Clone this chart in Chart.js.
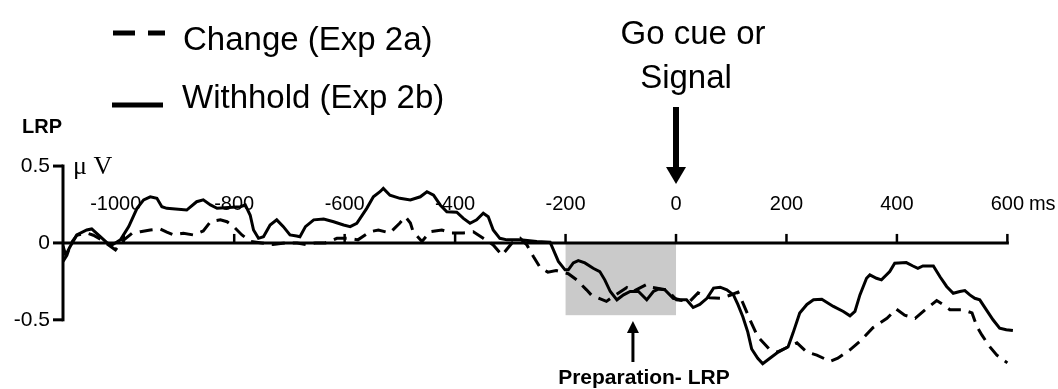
<!DOCTYPE html>
<html>
<head>
<meta charset="utf-8">
<script src="https://cdn.jsdelivr.net/npm/chart.js@4"></script>
<style>
  html, body { margin: 0; padding: 0; background: #fff; }
  #wrap { width: 1058px; height: 389px; position: relative; }
</style>
</head>
<body>
<div id="wrap"><canvas id="lrpChart"></canvas></div>
<script>
// time axis (ms) and LRP amplitude (µV)
const withholdTime = [-1110, -1105, -1098, -1085, -1067, -1058, -1046, -1030, -1021, -1006, -991, -976, -964, -952, -940, -931, -922, -886, -868, -856, -843, -831, -789, -780, -771, -765, -756, -747, -735, -723, -711, -699, -687, -681, -671, -656, -638, -620, -602, -590, -578, -560, -548, -536, -530, -518, -500, -481, -463, -451, -439, -427, -415, -397, -385, -373, -361, -349, -340, -331, -319, -306, -282, -252, -228, -222, -213, -201, -195, -186, -177, -165, -150, -138, -129, -119, -107, -95, -83, -68, -53, -41, -32, -20, -5, 7, 19, 31, 43, 56, 68, 80, 92, 104, 112, 121, 130, 137, 148, 157, 170, 185, 203, 212, 224, 237, 249, 264, 285, 303, 315, 324, 333, 345, 351, 363, 372, 387, 396, 417, 429, 438, 447, 466, 478, 490, 502, 514, 523, 532, 541, 550, 562, 574, 586, 598, 610];
const withholdLRP = [-0.02, -0.08, -0.03, 0.052, 0.084, 0.091, 0.052, 0, -0.013, 0.02, 0.106, 0.225, 0.28, 0.30, 0.29, 0.236, 0.225, 0.214, 0.268, 0.28, 0.247, 0.225, 0.236, 0.247, 0.18, 0.084, 0.03, 0.04, 0.117, 0.15, 0.106, 0.052, 0.045, 0.04, 0.106, 0.15, 0.156, 0.138, 0.117, 0.106, 0.128, 0.225, 0.30, 0.333, 0.355, 0.31, 0.29, 0.28, 0.30, 0.333, 0.31, 0.247, 0.203, 0.2, 0.16, 0.128, 0.15, 0.193, 0.17, 0.084, 0.03, 0.02, 0.02, 0.01, 0.005, -0.045, -0.12, -0.175, -0.175, -0.13, -0.115, -0.13, -0.165, -0.186, -0.24, -0.316, -0.37, -0.338, -0.316, -0.316, -0.37, -0.316, -0.30, -0.305, -0.36, -0.37, -0.37, -0.42, -0.40, -0.36, -0.294, -0.288, -0.305, -0.338, -0.40, -0.48, -0.58, -0.69, -0.75, -0.786, -0.75, -0.71, -0.675, -0.585, -0.456, -0.40, -0.37, -0.366, -0.413, -0.446, -0.474, -0.446, -0.338, -0.23, -0.208, -0.23, -0.24, -0.186, -0.132, -0.128, -0.15, -0.165, -0.15, -0.15, -0.22, -0.283, -0.327, -0.316, -0.31, -0.338, -0.36, -0.37, -0.435, -0.50, -0.554, -0.565, -0.57];

const changeTime = [-1110, -1103, -1095, -1085, -1067, -1055, -1040, -1025, -1015, -1003, -985, -970, -952, -934, -922, -910, -892, -874, -856, -843, -825, -813, -801, -786, -770, -750, -730, -706, -686, -670, -653, -635, -614, -594, -576, -554, -539, -518, -500, -490, -481, -476, -460, -445, -424, -406, -385, -367, -349, -331, -315, -297, -282, -270, -258, -246, -232, -217, -195, -180, -162, -153, -126, -110, -89, -78, -53, -42, -17, 1, 25, 40, 61, 80, 98, 112, 121, 134, 148, 170, 183, 201, 219, 237, 255, 279, 293, 315, 333, 357, 382, 399, 414, 433, 451, 472, 483, 496, 519, 536, 545, 554, 568, 581, 592, 600];
const changeLRP = [-0.12, -0.08, 0.0, 0.05, 0.065, 0.05, 0.02, -0.02, -0.045, 0.01, 0.063, 0.073, 0.084, 0.091, 0.07, 0.052, 0.063, 0.052, 0.078, 0.138, 0.15, 0.138, 0.106, 0.052, 0.01, 0.0, -0.01, 0.0, 0.0, -0.01, 0.0, 0.0, 0.03, 0.03, 0.02, 0.073, 0.084, 0.065, 0.13, 0.17, 0.13, 0.073, 0.01, 0.073, 0.084, 0.065, 0.065, 0.073, 0.03, -0.013, -0.08, 0, 0.03, -0.013, -0.09, -0.16, -0.19, -0.18, -0.2, -0.24, -0.305, -0.34, -0.38, -0.34, -0.29, -0.316, -0.27, -0.29, -0.305, -0.37, -0.38, -0.325, -0.357, -0.36, -0.34, -0.32, -0.39, -0.5, -0.61, -0.695, -0.71, -0.68, -0.65, -0.71, -0.73, -0.77, -0.75, -0.695, -0.64, -0.55, -0.49, -0.43, -0.47, -0.49, -0.435, -0.375, -0.4, -0.435, -0.435, -0.455, -0.545, -0.6, -0.675, -0.73, -0.76, -0.78];

const xTicks = [-1000, -800, -600, -400, -200, 0, 200, 400, 600];
const yTicks = [0.5, 0, -0.5];
const prepWindow = [-200, 0];   // shaded preparation window (ms)
const prepDepth = -0.47;        // bottom of the shaded window (µV)

const FONT = '"Liberation Sans", Arial, sans-serif';

function toPoints(xs, ys) {
    return xs.map((t, i) => ({ x: t, y: ys[i] }));
}

// draw the axes, labels and annotations the way the figure has them
const figurePlugin = {
    id: 'figurePlugin',
    beforeDatasetsDraw(chart) {
        const { ctx, scales: { x, y } } = chart;
        const x0 = x.getPixelForValue(prepWindow[0]);
        const x1 = x.getPixelForValue(prepWindow[1]);
        const yTop = y.getPixelForValue(0);
        const yBot = y.getPixelForValue(prepDepth);
        ctx.save();
        ctx.fillStyle = '#cacaca';
        ctx.fillRect(x0, yTop, x1 - x0, yBot - yTop);
        ctx.restore();
    },
    afterDatasetsDraw(chart) {
        const { ctx, scales: { x, y } } = chart;
        const zeroY = y.getPixelForValue(0);
        const axisX = x.getPixelForValue(x.min);
        const endX = x.getPixelForValue(600);

        ctx.save();
        ctx.strokeStyle = '#000';
        ctx.fillStyle = '#000';
        ctx.lineCap = 'butt';

        // x axis along zero, ticks pointing up
        ctx.lineWidth = 3;
        ctx.beginPath();
        ctx.moveTo(axisX, zeroY);
        ctx.lineTo(endX + 1.5, zeroY);
        ctx.stroke();
        ctx.lineWidth = 2.5;
        xTicks.forEach(t => {
            const px = x.getPixelForValue(t);
            ctx.beginPath();
            ctx.moveTo(px, zeroY);
            ctx.lineTo(px, zeroY - 9);
            ctx.stroke();
        });
        ctx.font = '20px ' + FONT;
        ctx.textAlign = 'center';
        ctx.textBaseline = 'middle';
        xTicks.forEach(t => {
            const px = x.getPixelForValue(t);
            ctx.fillText(String(t), t === -1000 ? px - 8 : px, zeroY - 38);
        });
        ctx.textAlign = 'left';
        ctx.fillText(' ms', x.getPixelForValue(600) + 16, zeroY - 38);

        // y axis, ticks pointing left
        ctx.lineWidth = 3;
        ctx.beginPath();
        ctx.moveTo(axisX, y.getPixelForValue(0.5) - 1.5);
        ctx.lineTo(axisX, y.getPixelForValue(-0.5) + 1.5);
        ctx.stroke();
        ctx.textAlign = 'right';
        ctx.font = '21px ' + FONT;
        yTicks.forEach(v => {
            const py = y.getPixelForValue(v);
            ctx.beginPath();
            ctx.moveTo(axisX - 10, py);
            ctx.lineTo(axisX, py);
            ctx.stroke();
            ctx.fillText(String(v), axisX - 13, py);
        });

        // units and axis name
        ctx.textAlign = 'left';
        ctx.textBaseline = 'alphabetic';
        ctx.font = '26px "Liberation Serif", "Times New Roman", serif';
        ctx.fillText('\u03bc V', axisX + 10, 174);
        ctx.font = 'bold 20px ' + FONT;
        ctx.fillText('LRP', 22, 133);

        // legend
        ctx.lineWidth = 5;
        ctx.beginPath();
        ctx.moveTo(113, 33); ctx.lineTo(135, 33);
        ctx.moveTo(148, 33); ctx.lineTo(165, 33);
        ctx.moveTo(112, 105); ctx.lineTo(163, 105);
        ctx.stroke();
        ctx.font = '33px ' + FONT;
        ctx.fillText('Change (Exp 2a)', 183, 50);
        ctx.fillText('Withhold (Exp 2b)', 182, 108);

        // go cue annotation
        const cueX = x.getPixelForValue(0);
        ctx.textAlign = 'center';
        ctx.fillText('Go cue or', cueX + 17, 44);
        ctx.fillText('Signal', cueX + 10, 88);
        ctx.lineWidth = 6;
        ctx.beginPath();
        ctx.moveTo(cueX, 107);
        ctx.lineTo(cueX, 170);
        ctx.stroke();
        ctx.beginPath();
        ctx.moveTo(cueX - 10, 167);
        ctx.lineTo(cueX + 10, 167);
        ctx.lineTo(cueX, 184);
        ctx.closePath();
        ctx.fill();

        // preparation window annotation
        const prepX = x.getPixelForValue(-78);
        ctx.lineWidth = 3;
        ctx.beginPath();
        ctx.moveTo(prepX, 330);
        ctx.lineTo(prepX, 362);
        ctx.stroke();
        ctx.beginPath();
        ctx.moveTo(prepX - 6, 333);
        ctx.lineTo(prepX + 6, 333);
        ctx.lineTo(prepX, 321);
        ctx.closePath();
        ctx.fill();
        ctx.font = 'bold 21px ' + FONT;
        ctx.fillText('Preparation- LRP', prepX + 11, 384);

        ctx.restore();
    }
};

function initLrpChart() {
    const ctx = document.getElementById('lrpChart').getContext('2d');
    new Chart(ctx, {
        type: 'line',
        data: {
            datasets: [{
                label: 'Change (Exp 2a)',
                data: toPoints(changeTime, changeLRP),
                borderColor: '#000',
                borderWidth: 3,
                borderDash: [13, 8],
                pointRadius: 0,
                tension: 0
            }, {
                label: 'Withhold (Exp 2b)',
                data: toPoints(withholdTime, withholdLRP),
                borderColor: '#000',
                borderWidth: 3,
                pointRadius: 0,
                tension: 0
            }]
        },
        options: {
            responsive: true,
            maintainAspectRatio: false,
            animation: false,
            layout: { padding: { left: 63, right: 44, top: 0, bottom: 0 } },
            plugins: {
                legend: { display: false },
                tooltip: { enabled: false }
            },
            scales: {
                x: { type: 'linear', min: -1110, max: 612, display: false },
                y: { min: -0.95, max: 1.58, display: false }
            }
        },
        plugins: [figurePlugin]
    });
}

document.addEventListener('DOMContentLoaded', initLrpChart);
</script>
</body>
</html>
